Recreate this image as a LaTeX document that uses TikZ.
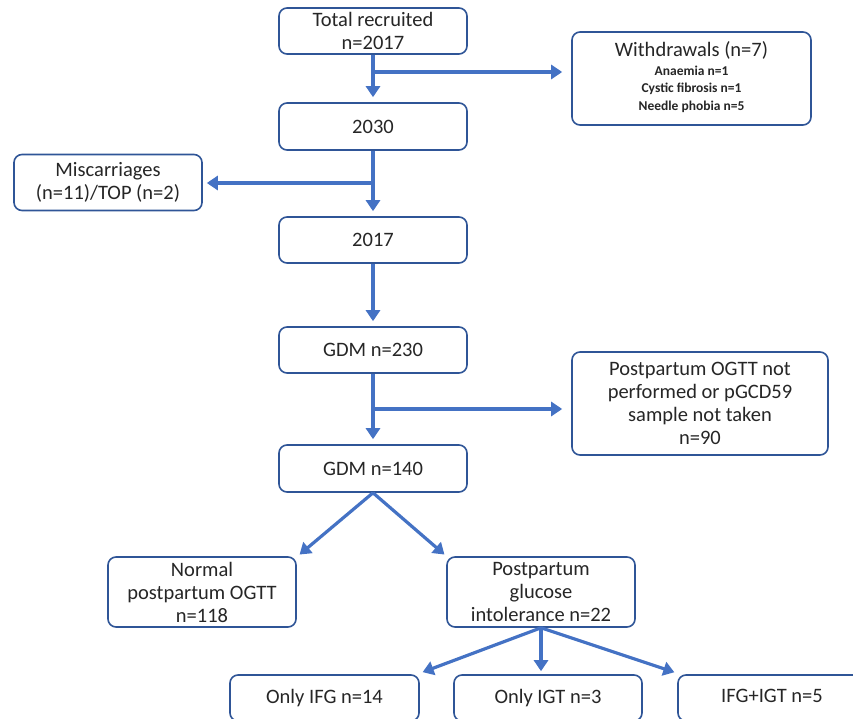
\documentclass[tikz,border=0pt]{standalone}
\usepackage{fontspec}
\setmainfont{Carlito}
\usetikzlibrary{arrows.meta,calc}
\definecolor{arr}{HTML}{4472C4}
\definecolor{bord}{HTML}{2F5597}
\newcommand{\smallbold}{\fontsize{13.5}{17.5}\selectfont\bfseries}
\begin{document}
\begin{tikzpicture}[x=1pt,y=-1pt,
  box/.style={draw=bord,line width=1.6pt,rounded corners=8pt,fill=white,align=center,
    inner sep=0pt,font=\fontsize{20.5}{23}\selectfont,text=black!85},
  conn/.style={draw=arr,line width=3.2pt,-{Triangle[length=11pt,width=14pt]}}]
\useasboundingbox (0,0) rectangle (853,719);
\clip (0,0) rectangle (853,719);
\node[box,minimum width=188pt,minimum height=46pt] (tot) at (373,31) {Total recruited\\n=2017};
\node[box,minimum width=239pt,minimum height=93pt] (wd) at (691.5,78.5)
  {\raisebox{-3pt}{\begin{tabular}{@{}c@{}}Withdrawals (n=7)\\[-4pt]\smallbold Anaemia n=1\\[-5.5pt]\smallbold Cystic fibrosis n=1\\[-5.5pt]\smallbold Needle phobia n=5\end{tabular}}};
\node[box,minimum width=188pt,minimum height=47pt] (n2030) at (373,126.5) {2030};
\node[box,minimum width=188pt,minimum height=56pt] (mis) at (108,182.5) {Miscarriages\\(n=11)/TOP (n=2)};
\node[box,minimum width=188pt,minimum height=46pt] (n2017) at (373,240) {2017};
\node[box,minimum width=188pt,minimum height=46pt] (g230) at (373,350) {GDM n=230};
\node[box,minimum width=256pt,minimum height=103pt] (pp) at (700,403.5)
  {Postpartum OGTT not\\performed or pGCD59\\sample not taken\\n=90};
\node[box,minimum width=188pt,minimum height=47pt] (g140) at (373,468.5) {GDM n=140};
\node[box,minimum width=188pt,minimum height=70pt] (norm) at (202,592) {Normal\\postpartum OGTT\\n=118};
\node[box,minimum width=188pt,minimum height=70pt] (pgi) at (541,592) {Postpartum\\glucose\\intolerance n=22};
\node[box,minimum width=189pt,minimum height=46pt] (ifg) at (324.5,698) {\raisebox{4pt}{Only IFG n=14}};
\node[box,minimum width=188pt,minimum height=46pt] (igt) at (548,698) {\raisebox{4pt}{Only IGT n=3}};
\node[box,minimum width=188pt,minimum height=46pt] (both) at (772,698) {\raisebox{4pt}{IFG+IGT n=5}};
\coordinate (b1) at (373,72);
\coordinate (b2) at (373,183);
\coordinate (b3) at (373,409);
\draw[conn,shorten >=5pt] (tot.south) -- (n2030.north);
\draw[conn,shorten >=9pt] (b1) -- (b1 -| wd.west);
\draw[conn,shorten >=5pt] (n2030.south) -- (n2017.north);
\draw[conn,shorten >=4pt] (b2) -- (b2 -| mis.east);
\draw[conn,shorten >=5pt] (n2017.south) -- (g230.north);
\draw[conn,shorten >=5pt] (g230.south) -- (g140.north);
\draw[conn,shorten >=9pt] (b3) -- (b3 -| pp.west);
\draw[conn,shorten >=1pt] (g140.south) -- ($(norm.north east)+(2,-1)$);
\draw[conn,shorten >=1pt] (g140.south) -- ($(pgi.north west)+(-1,-1)$);
\draw[conn,shorten >=3pt] (pgi.south) -- ($(ifg.north east)+(0,-1)$);
\draw[conn,shorten >=3pt] (pgi.south) -- (pgi.south |- igt.north);
\draw[conn,shorten >=3pt] (pgi.south) -- ($(both.north west)+(0,-1)$);
\end{tikzpicture}
\end{document}
